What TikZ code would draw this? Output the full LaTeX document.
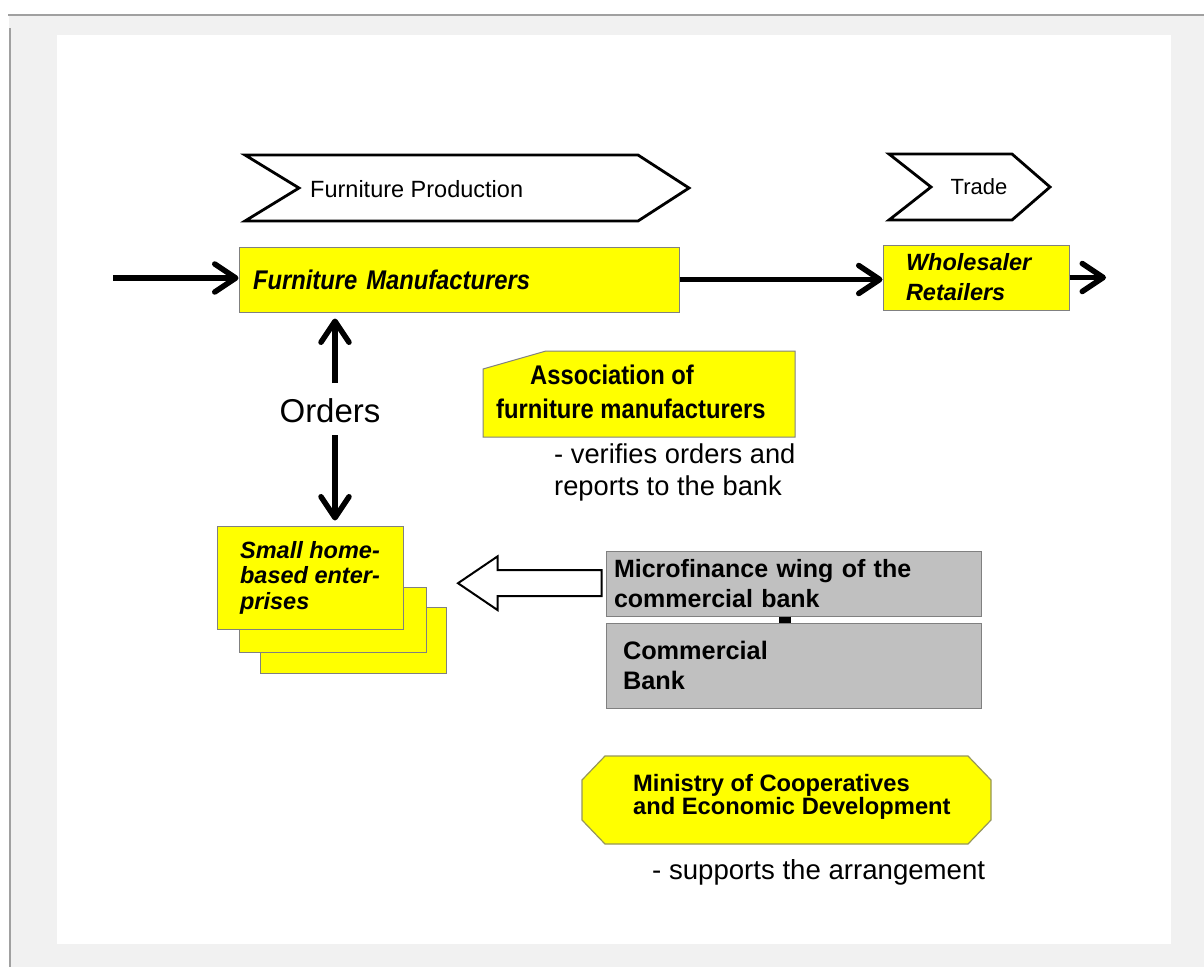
\documentclass[tikz,border=0pt]{standalone}
\usepackage{fontspec}
\setmainfont{Liberation Sans}
\newfontfamily\narrowsans[FakeStretch=0.88]{Liberation Sans}
\usetikzlibrary{arrows.meta,calc}
\definecolor{ylw}{RGB}{255,255,0}
\definecolor{ybord}{RGB}{128,128,128}
\definecolor{mbord}{RGB}{150,150,90}
\definecolor{gfill}{RGB}{192,192,192}
\definecolor{pagegray}{RGB}{241,241,241}
\definecolor{rulegray}{RGB}{160,160,160}
\newcommand{\fsz}[2]{\fontsize{#1}{#2}\selectfont\lineskiplimit=-100pt\relax}
\begin{document}
\begin{tikzpicture}[x=1pt,y=-1pt,
  ybox/.style={draw=ybord, line width=1pt, fill=ylw},
  mbox/.style={draw=mbord, line width=1.2pt, fill=ylw},
  gbox/.style={draw=ybord, line width=1pt, fill=gfill},
  chev/.style={draw=black, line width=2.8pt, fill=white, line join=miter},
  flow/.style={line width=5.5pt, -{Straight Barb[length=21pt,width=28pt,round]}},
  hollow/.style={draw=black, line width=2pt, fill=white, line join=miter},
  txt/.style={inner sep=0pt, align=left},
]
% page background
\useasboundingbox (0,0) rectangle (1204,967);
\fill[white] (0,0) rectangle (1204,967);
\fill[pagegray] (9,15) rectangle (1204,967);
\draw[rulegray, line width=1.5pt] (8,15) -- (1204,15);
\draw[rulegray, line width=2.5pt] (10,28) -- (10,967);
\fill[white] (57,35) rectangle (1171,944);

% chevrons
\draw[chev] (245,155) -- (638,155) -- (689,188) -- (638,221) -- (245,221) -- (299,188) -- cycle;
\node[txt, anchor=west, font=\fsz{23.5pt}{28pt}] (fptext) at (310,189) {Furniture Production};
\draw[chev] (889,154) -- (1012,154) -- (1050,187) -- (1012,220) -- (889,220) -- (931,187) -- cycle;
\node[txt, font=\fsz{22pt}{26pt}] (tradetext) at (979,187) {Trade};

% main row
\node[ybox, minimum width=440pt, minimum height=65pt, inner xsep=14pt, text width=412pt, align=left,
      font=\narrowsans\fsz{27pt}{30pt}\bfseries\itshape] (fm) at (459,279.5) {Furniture Manufacturers};
\node[ybox, minimum width=186pt, minimum height=65pt, inner xsep=23pt, text width=140pt, align=left,
      font=\fsz{23.5pt}{30pt}\bfseries\itshape] (wr) at (976,277.5) {Wholesaler\\Retailers};
\coordinate (in) at (113,278);
\coordinate (out) at (1106,279);
\draw[flow] (in) -- (in -| fm.west);
\draw[flow] (fm.east) -- (fm.east -| wr.west);
\draw[flow] (wr.east) -- (wr.east -| out);

% small home-based enterprises
\node[ybox, minimum width=186pt, minimum height=66pt] (she3) at (353,640) {};
\node[ybox, minimum width=187pt, minimum height=65pt] (she2) at (332.5,619.5) {};
\node[ybox, minimum width=186pt, minimum height=103pt, align=left,
      font=\fsz{23.5pt}{25.5pt}\bfseries\itshape] (she) at (310,577.5) {Small home-\\based enter-\\prises};

% orders
\node[txt, font=\fsz{33pt}{36pt}] (orders) at (330,411) {Orders};
\coordinate (upbase) at (335,383);
\coordinate (dnbase) at (335,435);
\draw[flow, shorten >=6pt] (upbase) -- (upbase |- fm.south);
\draw[flow, shorten >=5pt] (dnbase) -- (dnbase |- she.north);

% association
\draw[ybox] (483,369) -- (546,351) -- (795,351) -- (795,437) -- (483,437) -- cycle;
\node[txt, anchor=west, font=\narrowsans\fsz{27pt}{34pt}\bfseries] (assoc) at (496,392)
  {\hspace*{34pt}Association of\\furniture manufacturers};
\node[txt, anchor=west, font=\fsz{27.3pt}{32pt}] (verif) at (554,472)
  {- verifies orders and\\reports to the bank};

% bank
\node[gbox, minimum width=375pt, minimum height=65pt, inner xsep=8pt, text width=359pt, align=left,
      font=\fsz{25pt}{30pt}\bfseries] (mf) at (793.5,583.5) {Microfinance wing of the\\commercial bank};
\node[gbox, minimum width=375pt, minimum height=85pt, inner xsep=17pt, text width=341pt, align=left,
      font=\fsz{25.3pt}{30pt}\bfseries] (cb) at (793.5,665.8) {Commercial\\Bank};
\coordinate (cx) at (785,0);
\draw[line width=12pt] (mf.south -| cx) -- (cb.north -| cx);

% hollow arrow from microfinance wing to enterprises
\draw[hollow] ($(mf.west)+(-4,-13.3)$) -- ++(-104,0) -- ++(0,-13.8) -- ++(-39.5,26.8)
  -- ++(39.5,26.8) -- ++(0,-13.8) -- ++(104,0) -- cycle;

% ministry
\draw[mbox] (605,756) -- (968,756) -- (991,780) -- (991,820) -- (968,844) -- (605,844)
  -- (582,820) -- (582,780) -- cycle;
\node[txt, anchor=west, font=\fsz{23.7pt}{23pt}\bfseries] (min) at (633,797)
  {Ministry of Cooperatives\\and Economic Development};
\node[txt, anchor=west, font=\fsz{27.6pt}{30pt}] (supp) at (652,872) {- supports the arrangement};
\end{tikzpicture}
\end{document}
